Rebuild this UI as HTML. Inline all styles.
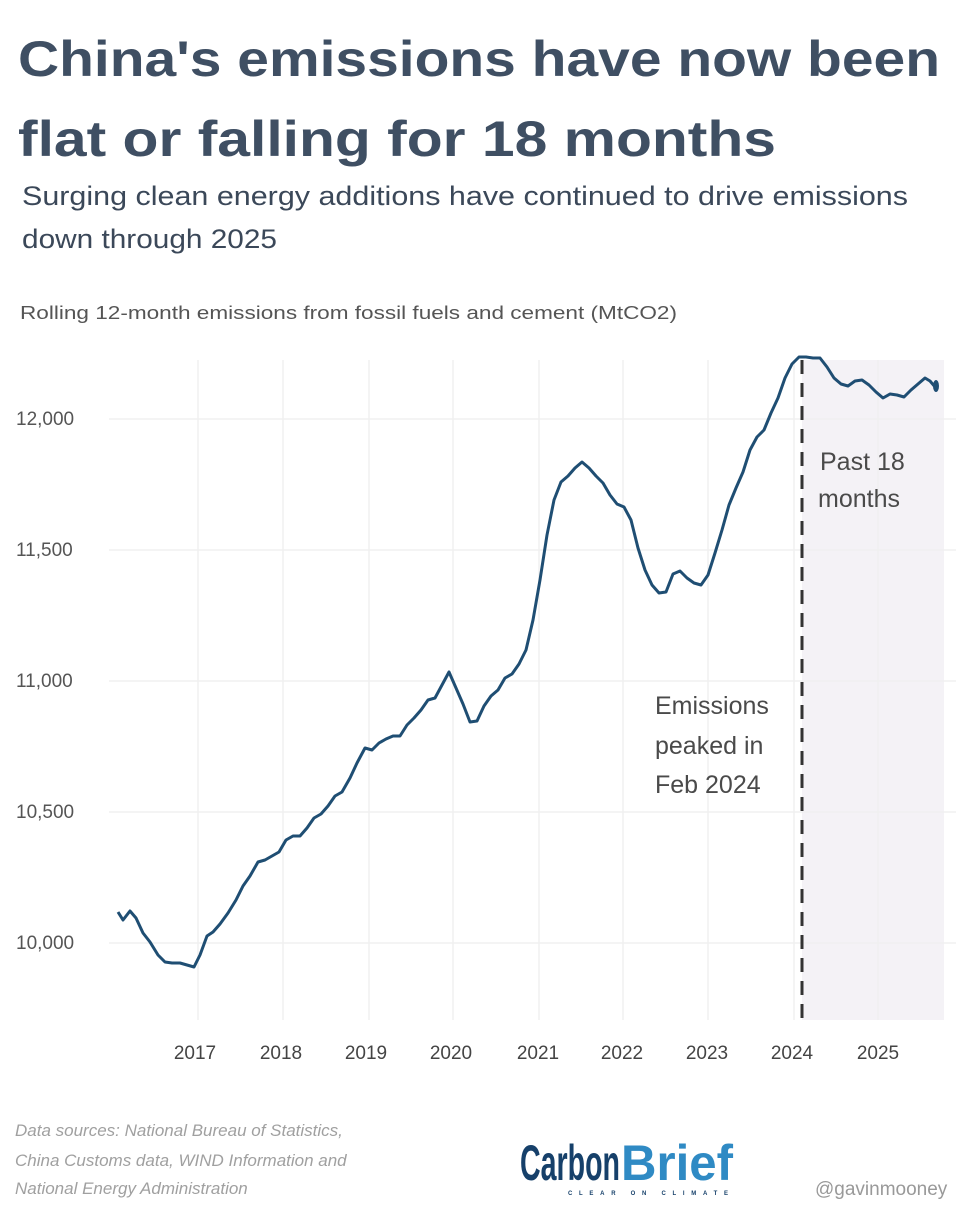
<!DOCTYPE html>
<html><head><meta charset="utf-8"><style>
html,body{margin:0;padding:0;background:#fff;}
svg{display:block;}
text{font-family:"Liberation Sans",sans-serif;}
</style></head><body>
<svg width="972" height="1213" viewBox="0 0 972 1213">
<text x="18" y="76" font-size="50" font-weight="bold" fill="#3f4f63" textLength="922" lengthAdjust="spacingAndGlyphs">China's emissions have now been</text>
<text x="18" y="156" font-size="50" font-weight="bold" fill="#3f4f63" textLength="758" lengthAdjust="spacingAndGlyphs">flat or falling for 18 months</text>
<text x="22" y="205" font-size="27" fill="#3b4859" textLength="886" lengthAdjust="spacingAndGlyphs">Surging clean energy additions have continued to drive emissions</text>
<text x="22" y="248" font-size="27" fill="#3b4859" textLength="255" lengthAdjust="spacingAndGlyphs">down through 2025</text>
<text x="20" y="319" font-size="18" fill="#555" textLength="657" lengthAdjust="spacingAndGlyphs">Rolling 12-month emissions from fossil fuels and cement (MtCO2)</text>

<rect x="802" y="360" width="142" height="660" fill="#f4f2f6"/>
<g stroke="#f0f0f0" stroke-width="1.5">
<line x1="198" y1="360" x2="198" y2="1020"/><line x1="283" y1="360" x2="283" y2="1020"/>
<line x1="369" y1="360" x2="369" y2="1020"/><line x1="453" y1="360" x2="453" y2="1020"/>
<line x1="539" y1="360" x2="539" y2="1020"/><line x1="623" y1="360" x2="623" y2="1020"/>
<line x1="708" y1="360" x2="708" y2="1020"/><line x1="794" y1="360" x2="794" y2="1020"/>
<line x1="878" y1="360" x2="878" y2="1020"/>
<line x1="109" y1="419" x2="956" y2="419"/><line x1="109" y1="550" x2="956" y2="550"/>
<line x1="109" y1="681" x2="956" y2="681"/><line x1="109" y1="812" x2="956" y2="812"/>
<line x1="109" y1="943" x2="956" y2="943"/>
</g>
<g font-size="19" fill="#555">
<text x="16" y="425">12,000</text><text x="16" y="556">11,500</text>
<text x="16" y="687">11,000</text><text x="16" y="818">10,500</text>
<text x="16" y="949">10,000</text>
</g>
<g font-size="19" fill="#444" text-anchor="middle">
<text x="195" y="1059">2017</text><text x="281" y="1059">2018</text><text x="366" y="1059">2019</text>
<text x="451" y="1059">2020</text><text x="538" y="1059">2021</text><text x="622" y="1059">2022</text>
<text x="707" y="1059">2023</text><text x="792" y="1059">2024</text><text x="878" y="1059">2025</text>
</g>
<line x1="802" y1="360" x2="802" y2="1020" stroke="#333" stroke-width="3" stroke-dasharray="14,9"/>
<polyline fill="none" stroke="#1f4e73" stroke-width="3" stroke-linejoin="round" points="118,912 123,920 130,911 136,918 143,933 150,942 158,955 165,962 172,963 180,963 187,965 194,967 200,955 207,936 213,932 220,924 228,913 236,900 243,886 250,876 258,862 265,860 272,856 279,852 286,840 293,836 300,836 307,828 314,818 321,814 328,806 335,796 342,792 350,778 357,763 365,748 372,750 379,743 386,739 393,736 400,736 407,725 414,718 421,710 428,700 435,698 442,685 449,672 456,688 463,704 470,722 477,721 484,706 491,696 498,690 505,678 512,674 519,664 526,650 533,620 540,580 547,535 554,500 561,482 568,476 575,468 582,462 589,468 596,476 603,483 610,495 617,504 624,507 631,520 638,548 645,570 652,585 659,593 666,592 673,574 680,571 687,578 694,583 701,585 708,575 715,553 722,530 729,505 736,488 743,472 750,450 757,437 764,430 771,413 778,398 785,378 792,364 799,357 806,357 813,358 820,358 827,367 834,378 841,384 848,386 855,381 862,380 869,385 876,392 883,398 890,394 897,395 904,397 911,390 918,384 925,378 930,381 936,388"/>
<ellipse cx="936" cy="386" rx="3" ry="6" fill="#1f4e73"/>
<g font-size="25" fill="#4a4a4a">
<text x="820" y="470">Past 18</text><text x="818" y="507">months</text>
<text x="655" y="714">Emissions</text><text x="655" y="754">peaked in</text><text x="655" y="793">Feb 2024</text>
</g>
<g font-size="17" font-style="italic" fill="#a0a0a0">
<text x="15" y="1136">Data sources: National Bureau of Statistics,</text>
<text x="15" y="1166">China Customs data, WIND Information and</text>
<text x="15" y="1194">National Energy Administration</text>
</g>
<text x="520" y="1180" font-size="50" font-weight="bold" fill="#16406a" textLength="100" lengthAdjust="spacingAndGlyphs">Carbon</text>
<text x="621" y="1180" font-size="50" font-weight="bold" fill="#2f8ac4" textLength="112" lengthAdjust="spacingAndGlyphs">Brief</text>
<text x="568" y="1195" font-size="6" font-weight="bold" fill="#16406a" textLength="160" lengthAdjust="spacing">CLEAR ON CLIMATE</text>
<text x="815" y="1195" font-size="19" fill="#999">@gavinmooney</text>
</svg>
</body></html>
